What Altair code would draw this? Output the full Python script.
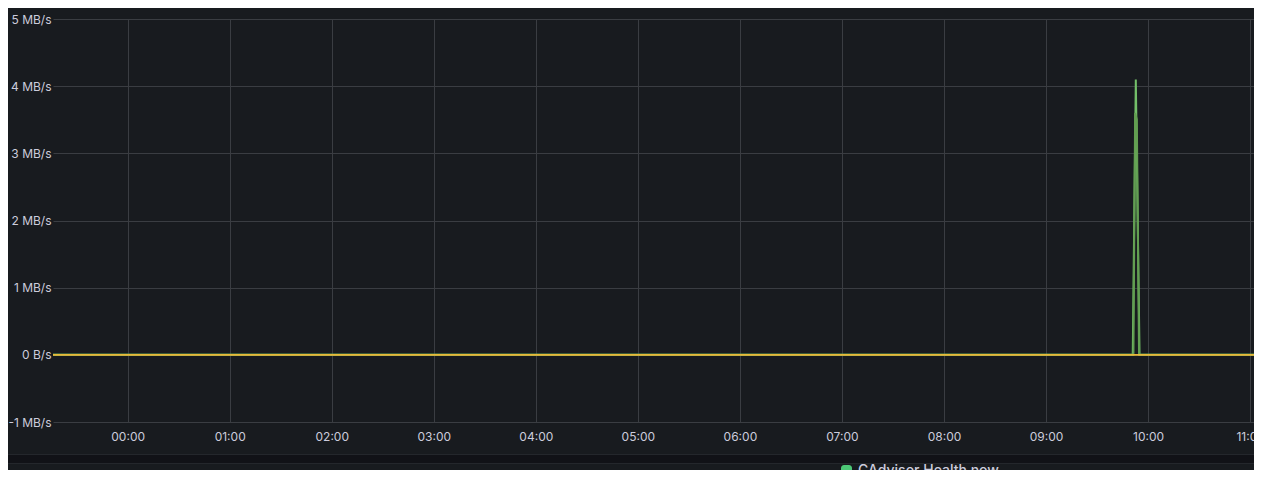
import altair as alt
import pandas as pd

# ---- data ----
# times as clock strings (times >= 12:00 belong to the previous evening)
green_a_times = ["23:14", "09:50", "09:51", "09:52.8", "09:55", "11:08"]
green_a_vals = [0.0, 0.0, 0.0, 4.1, 0.0, 0.0]

green_b_times = ["23:14", "09:51.4", "09:52.4", "09:53.4", "09:54.7", "11:08"]
green_b_vals = [0.0, 0.0, 3.6, 3.5, 0.0, 0.0]

yellow_times = ["23:14", "01:30", "03:00", "05:00", "07:00", "09:52", "09:53", "11:08"]
yellow_vals = [0.0, 0.0, 0.0, 0.0, 0.0, 0.0, 0.0, 0.0]

series_names = ["rx A", "rx B", "tx"]
series_colors = ["#73BF69", "#629E51", "#EAB839"]
series_widths = [2.0, 2.0, 1.8]

y_ticks = [-1, 0, 1, 2, 3, 4, 5]
x_tick_hours = list(range(0, 12))
legend_label = "CAdvisor Health now"


def to_minutes(s):
    hh, mm = s.split(":")
    m = int(hh) * 60 + float(mm)
    if int(hh) >= 12:
        m -= 1440
    return m


def frame(times, vals, name):
    return pd.DataFrame({"t": [to_minutes(s) for s in times], "v": vals, "s": name})


frames = [
    frame(green_a_times, green_a_vals, series_names[0]),
    frame(green_b_times, green_b_vals, series_names[1]),
    frame(yellow_times, yellow_vals, series_names[2]),
]

X_DOMAIN = [-43.9, 662.3]
LEFT = 45
W, H = 1246 - LEFT, 403

x_enc = alt.X(
    "t:Q",
    scale=alt.Scale(domain=X_DOMAIN, nice=False, zero=False),
    axis=alt.Axis(
        values=[h * 60 for h in x_tick_hours],
        labelExpr="(floor(datum.value/60) < 10 ? '0' : '') + floor(datum.value/60) + ':00'",
        title=None,
        domain=False,
        ticks=False,
        labelPadding=9,
        grid=True,
    ),
)
y_enc = alt.Y(
    "v:Q",
    scale=alt.Scale(domain=[-1, 5], nice=False),
    axis=alt.Axis(
        values=y_ticks,
        labelExpr="datum.value == 0 ? '0 B/s' : datum.value + ' MB/s'",
        title=None,
        domain=False,
        ticks=False,
        labelPadding=2,
        grid=True,
    ),
)

layers = []
for i, df in enumerate(frames):
    layers.append(
        alt.Chart(df)
        .mark_line(clip=True, strokeWidth=series_widths[i], color=series_colors[i])
        .encode(x=x_enc, y=y_enc)
    )

band = alt.Chart(pd.DataFrame({"a": [0]})).mark_rect(
    color="#111217", stroke="#24272c", strokeWidth=1
).encode(
    x=alt.value(-LEFT - 2), x2=alt.value(W + 2), y=alt.value(435.5), y2=alt.value(444.5)
)

swatch = alt.Chart(pd.DataFrame({"a": [0]})).mark_rect(
    color="#4CC776", cornerRadius=3
).encode(
    x=alt.value(788), x2=alt.value(799), y=alt.value(446), y2=alt.value(457)
)

legend_text = alt.Chart(pd.DataFrame({"label": [legend_label]})).mark_text(
    align="left", baseline="top", fontSize=14, fontWeight=500,
    color="#ccccdc", font="Inter"
).encode(x=alt.value(805), y=alt.value(445), text="label:N")

chart = (
    alt.layer(*layers, band, swatch, legend_text)
    .properties(
        width=W,
        height=H,
        autosize=alt.AutoSizeParams(type="none"),
        padding={"left": LEFT, "top": 11, "right": 0, "bottom": 48},
        background="#181b1f",
    )
    .configure_view(stroke=None, fill="#181b1f")
    .configure_axis(
        gridColor="#3a3d42",
        gridWidth=1,
        labelColor="#ccccdc",
        labelFont="Inter",
        labelFontSize=12,
    )
)

chart.save("out.html", embed_options={"renderer": "svg", "actions": False})
